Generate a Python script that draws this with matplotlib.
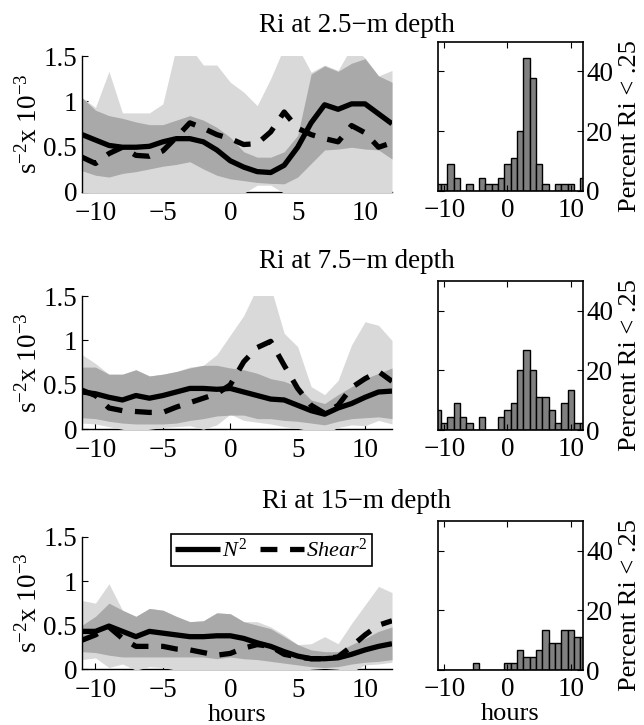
import matplotlib
matplotlib.use("Agg")
import matplotlib.pyplot as plt
import numpy as np

plt.rcParams['font.family'] = ['Liberation Serif', 'DejaVu Serif']
plt.rcParams['mathtext.fontset'] = 'custom'
plt.rcParams['mathtext.rm'] = 'Liberation Serif'
plt.rcParams['mathtext.it'] = 'Liberation Serif:italic'
plt.rcParams['axes.unicode_minus'] = True

hours = [-11, -10, -9, -8, -7, -6, -5, -4, -3, -2, -1, 0, 1, 2, 3, 4, 5, 6, 7, 8, 9, 10, 11, 12]
titles = ["Ri at 2.5\u2212m depth", "Ri at 7.5\u2212m depth", "Ri at 15\u2212m depth"]

# ---- 2.5 m ----
n2_1 = [0.63, 0.57, 0.51, 0.49, 0.49, 0.50, 0.55, 0.585, 0.585, 0.55, 0.46, 0.34, 0.27, 0.22, 0.21, 0.29,
        0.49, 0.76, 0.96, 0.91, 0.97, 0.97, 0.86, 0.75]
sh_1 = [0.38, 0.31, 0.42, 0.49, 0.40, 0.39, 0.45, 0.60, 0.76, 0.70, 0.63, 0.585, 0.52, 0.53, 0.66, 0.88,
        0.70, 0.63, 0.585, 0.55, 0.73, 0.65, 0.49, 0.54]
n2hi_1 = [1.04, 0.90, 0.84, 0.81, 0.77, 0.74, 0.74, 0.79, 0.84, 0.79, 0.71, 0.60, 0.44, 0.38, 0.38, 0.44,
          0.62, 1.30, 1.39, 1.33, 1.42, 1.47, 1.28, 1.21]
n2lo_1 = [0.23, 0.18, 0.16, 0.20, 0.22, 0.25, 0.28, 0.30, 0.33, 0.25, 0.18, 0.14, 0.12, 0.10, 0.09, 0.085,
          0.16, 0.31, 0.46, 0.47, 0.49, 0.47, 0.46, 0.36]
shhi_1 = [1.04, 0.93, 1.33, 0.87, 0.87, 0.87, 0.97, 1.6, 1.6, 1.40, 1.40, 1.21, 1.10, 0.95, 1.25, 1.6,
          1.6, 1.32, 1.40, 1.34, 1.6, 1.48, 1.28, 1.34]
shlo_1 = [-0.05, -0.05, -0.05, -0.05, -0.05, -0.05, -0.05, -0.05, -0.05, -0.05, -0.05, -0.02, -0.02, 0.07, 0.07, -0.02,
          -0.05, -0.05, -0.05, -0.05, -0.05, -0.05, -0.05, -0.05]

# ---- 7.5 m ----
n2_2 = [0.42, 0.40, 0.36, 0.33, 0.38, 0.35, 0.38, 0.42, 0.46, 0.46, 0.45, 0.46, 0.42, 0.38, 0.34, 0.33,
        0.27, 0.21, 0.17, 0.24, 0.29, 0.36, 0.42, 0.43]
sh_2 = [0.44, 0.38, 0.24, 0.21, 0.20, 0.19, 0.19, 0.25, 0.30, 0.35, 0.40, 0.50, 0.76, 0.92, 0.99, 0.72,
        0.46, 0.27, 0.18, 0.27, 0.47, 0.57, 0.65, 0.54]
n2hi_2 = [0.70, 0.70, 0.62, 0.62, 0.67, 0.60, 0.62, 0.65, 0.69, 0.72, 0.72, 0.69, 0.67, 0.63, 0.57, 0.54,
          0.48, 0.33, 0.29, 0.39, 0.48, 0.57, 0.63, 0.69]
n2lo_2 = [0.13, 0.12, 0.09, 0.07, 0.06, 0.06, 0.06, 0.07, 0.10, 0.12, 0.15, 0.16, 0.16, 0.12, 0.12, 0.10,
          0.09, 0.07, 0.05, 0.09, 0.12, 0.13, 0.14, 0.12]
shhi_2 = [0.84, 0.74, 0.62, 0.62, 0.67, 0.60, 0.62, 0.65, 0.70, 0.72, 0.84, 1.06, 1.28, 1.6, 1.6, 1.08,
          0.93, 0.48, 0.39, 0.55, 0.95, 1.21, 1.17, 1.00]
shlo_2 = [0.07, 0.06, 0.03, 0.00, -0.03, 0.00, 0.02, 0.03, 0.04, 0.00, 0.05, 0.17, 0.10, 0.08, 0.06, 0.03,
          0.01, -0.02, -0.05, 0.02, 0.05, 0.04, 0.10, 0.06]

# ---- 15 m ----
n2_3 = [0.43, 0.43, 0.49, 0.43, 0.37, 0.43, 0.41, 0.39, 0.37, 0.37, 0.38, 0.38, 0.35, 0.30, 0.26, 0.20,
        0.15, 0.12, 0.12, 0.13, 0.17, 0.22, 0.26, 0.29]
sh_3 = [0.33, 0.39, 0.48, 0.35, 0.26, 0.26, 0.26, 0.23, 0.22, 0.19, 0.16, 0.18, 0.24, 0.28, 0.26, 0.17,
        0.14, 0.12, 0.12, 0.14, 0.26, 0.39, 0.50, 0.55]
n2hi_3 = [0.50, 0.60, 0.75, 0.67, 0.60, 0.69, 0.67, 0.60, 0.54, 0.55, 0.64, 0.63, 0.54, 0.50, 0.46, 0.37,
          0.28, 0.22, 0.20, 0.20, 0.28, 0.35, 0.43, 0.48]
n2lo_3 = [0.20, 0.19, 0.16, 0.14, 0.14, 0.14, 0.14, 0.14, 0.14, 0.14, 0.12, 0.14, 0.12, 0.11, 0.09, 0.07,
          0.05, 0.03, 0.02, 0.03, 0.06, 0.08, 0.09, 0.11]
shhi_3 = [0.78, 0.75, 0.97, 0.67, 0.60, 0.69, 0.67, 0.60, 0.54, 0.55, 0.64, 0.63, 0.54, 0.54, 0.48, 0.39,
          0.28, 0.29, 0.37, 0.29, 0.52, 0.73, 0.94, 0.87]
shlo_3 = [0.11, 0.13, 0.02, 0.06, -0.01, 0.03, 0.02, -0.01, -0.02, -0.03, -0.03, -0.02, -0.02, -0.03, -0.03, -0.03,
          -0.02, 0.00, 0.01, 0.00, -0.03, 0.05, 0.06, 0.08]

# ---- histograms: percent Ri < .25 per hour ----
pct_1 = [2.2, 2.2, 8.9, 4.4, 0, 2.2, 0, 4.4, 2.2, 2.2, 4.4, 8.9, 11.1, 20.0, 44.4, 37.8,
         8.9, 2.2, 0, 2.2, 2.2, 2.2, 0, 4.4]
pct_2 = [6.7, 2.2, 4.4, 8.9, 4.4, 2.2, 0, 4.4, 0, 0, 4.4, 6.7, 8.9, 20.0, 26.7, 20.0,
         11.1, 11.1, 6.7, 2.2, 8.9, 13.3, 2.2, 2.2]
pct_3 = [0, 0, 0, 0, 0, 0, 2.2, 0, 0, 0, 0, 2.2, 2.2, 6.7, 4.4, 4.4,
         6.7, 13.3, 8.9, 8.9, 13.3, 13.3, 11.1, 11.1]

panels = [
    (n2_1, sh_1, n2hi_1, n2lo_1, shhi_1, shlo_1, pct_1),
    (n2_2, sh_2, n2hi_2, n2lo_2, shhi_2, shlo_2, pct_2),
    (n2_3, sh_3, n2hi_3, n2lo_3, shhi_3, shlo_3, pct_3),
]

W, H = 644, 725
fig = plt.figure(figsize=(W / 100, H / 100), dpi=100)

def fx(px):
    return px / W

def fy(py):
    return 1 - py / H

left_boxes = [(82, 56, 392, 191.5), (82, 296, 392, 429.3), (82, 537, 392, 669.3)]
hist_boxes = [(438, 41.7, 583.3, 190.7), (438, 280.7, 583.3, 430), (438, 520.7, 583.3, 670)]
title_y = [32, 268, 508]

FS = 19.5
LIGHT = '#d9d9d9'
DARK = '#a9a9a9'

for i, (n2, sh, n2hi, n2lo, shhi, shlo, pct) in enumerate(panels):
    x0, y0, x1, y1 = left_boxes[i]
    ax = fig.add_axes([fx(x0), fy(y1), fx(x1 - x0), (y1 - y0) / H])
    ax.fill_between(hours, shlo, shhi, color=LIGHT, lw=0, zorder=3)
    ax.fill_between(hours, n2lo, n2hi, color=DARK, lw=0, zorder=3.1)
    ax.plot(hours, n2, color='black', lw=3.8, solid_capstyle='butt', zorder=4, label='$N^2$')
    ax.plot(hours, sh, color='black', lw=3.8, dashes=(3.2, 2.4), dash_capstyle='butt', zorder=4.1,
            label='$Shear^2$')
    ax.set_xlim(-11, 12)
    ax.set_ylim(0, 1.5)
    ax.set_xticks([-10, -5, 0, 5, 10])
    ax.set_yticks([0, 0.5, 1, 1.5], ['0', '0.5', '1', '1.5'])
    ax.spines['top'].set_visible(False)
    ax.spines['right'].set_visible(False)
    ax.spines['left'].set_zorder(5)
    ax.spines['bottom'].set_zorder(2)
    ax.spines['left'].set_linewidth(1.0)
    ax.spines['bottom'].set_linewidth(1.0)
    ax.tick_params(direction='in', length=4, width=0.8, labelsize=FS, pad=3.5)
    ax.tick_params(axis='x', pad=6.5)
    ax.set_facecolor('none')
    if i == 2:
        leg = ax.legend(loc='upper left', bbox_to_anchor=(0.287, 1.025), ncol=2, fontsize=16,
                        frameon=True, fancybox=False, edgecolor='black', framealpha=1,
                        handlelength=2.0, handletextpad=0.1, columnspacing=0.55,
                        borderpad=0.2, borderaxespad=0.0)
        leg.get_frame().set_linewidth(1.2)
        leg.set_zorder(10)
        ax.set_xlabel('hours', fontsize=FS - 0.5, labelpad=0.5)

    hx0, hy0, hx1, hy1 = hist_boxes[i]
    hx = fig.add_axes([fx(hx0), fy(hy1), fx(hx1 - hx0), (hy1 - hy0) / H])
    hx.bar(hours, pct, width=1.0, color='#808080', edgecolor='black', linewidth=1.0)
    hx.set_xlim(-11, 12)
    hx.set_ylim(0, 50)
    hx.set_xticks([-10, 0, 10])
    hx.set_yticks([0, 20, 40])
    hx.yaxis.tick_right()
    hx.tick_params(direction='in', length=4, width=0.8, labelsize=FS, pad=2)
    hx.tick_params(axis='x', pad=5, top=True)
    hx.tick_params(axis='y', left=True)
    for s in hx.spines.values():
        s.set_linewidth(1.2)
    if i == 2:
        hx.set_xlabel('hours', fontsize=FS - 0.5, labelpad=1)

    fig.text(fx(357), fy(title_y[i]), titles[i], fontsize=FS, ha='center', va='baseline')
    fig.text(fx(29), fy((y0 + y1) / 2), r'$\mathrm{s}^{-2}\mathrm{x\ 10}^{-3}$', fontsize=FS,
             rotation=90, ha='center', va='center')
    fig.text(fx(630), fy((hy0 + hy1) / 2 + 10), 'Percent Ri < .25', fontsize=FS - 0.5,
             rotation=90, ha='center', va='center')

fig.savefig('out.png', dpi=100)
